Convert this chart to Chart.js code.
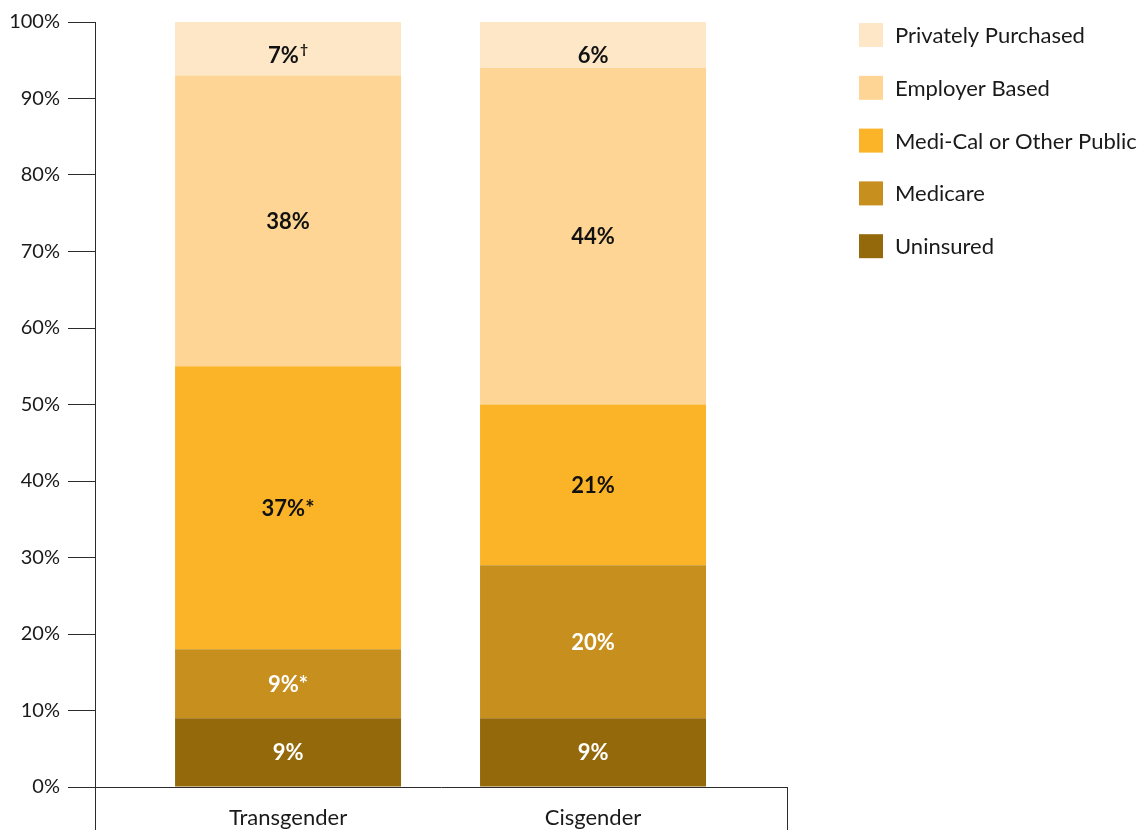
<!DOCTYPE html>
<html><head><meta charset="utf-8">
<script src="https://cdn.jsdelivr.net/npm/chart.js@4/dist/chart.umd.min.js"></script>
<style>html,body{margin:0;padding:0;background:#fff}</style>
</head><body>
<canvas id="c" width="1138" height="830"></canvas>
<script>
// ---- data ----
const categories = ['Transgender', 'Cisgender'];
const seriesNames = ['Uninsured', 'Medicare', 'Medi-Cal or Other Public', 'Employer Based', 'Privately Purchased'];
const uninsured = [9, 9];
const medicare = [9, 20];
const mediCalOrOtherPublic = [37, 21];
const employerBased = [38, 44];
const privatelyPurchased = [7, 6];
// footnote marks per category, in series order
const transgenderNotes = ['', '*', '*', '', '†'];
const cisgenderNotes = ['', '', '', '', ''];
const yTickValues = [0, 10, 20, 30, 40, 50, 60, 70, 80, 90, 100];

// ---- style ----
const FONT = 'Lato';
const TEXT = '#1a1a1a';
const AXIS = '#2b2b2b';
const colors = ['#94690B', '#C68F1E', '#FBB427', '#FED594', '#FEE7C7'];
const labelColors = ['#ffffff', '#ffffff', '#111111', '#111111', '#111111'];

const seriesValues = [uninsured, medicare, mediCalOrOtherPublic, employerBased, privatelyPurchased];
const notes = [transgenderNotes, cisgenderNotes];

const datasets = seriesNames.map((name, s) => ({
  label: name,
  data: categories.map((c, i) => ({ x: i, y: seriesValues[s][i] })),
  backgroundColor: colors[s],
  borderWidth: 0,
  grouped: false,
  categoryPercentage: 1,
  barPercentage: 0.741
}));

const segLabels = {
  id: 'segLabels',
  afterDatasetsDraw(chart) {
    const ctx = chart.ctx;
    ctx.save();
    const n = chart.data.datasets.length;
    chart.data.datasets.forEach((ds, di) => {
      const meta = chart.getDatasetMeta(di);
      meta.data.forEach((el, i) => {
        const val = ds.data[i].y;
        const note = notes[i][di];
        const sup = note === '†';
        const main = val + '%' + (sup ? '' : note);
        let y = (el.y + el.base) / 2 + 1;
        if (di === n - 1) y = Math.max(y, el.y + 34);
        ctx.textBaseline = 'middle';
        ctx.textAlign = 'left';
        ctx.fillStyle = labelColors[di];
        ctx.font = 'bold 22px ' + FONT;
        const w1 = ctx.measureText(main).width;
        let w2 = 0;
        if (sup) { ctx.font = 'bold 14px ' + FONT; w2 = ctx.measureText(note).width + 1; }
        const x0 = el.x - (w1 + w2) / 2;
        ctx.font = 'bold 22px ' + FONT;
        ctx.fillText(main, x0, y);
        if (sup) { ctx.font = 'bold 14px ' + FONT; ctx.fillText(note, x0 + w1 + 1, y - 7); }
      });
    });
    ctx.restore();
  }
};

const extras = {
  id: 'extras',
  afterDraw(chart) {
    const ctx = chart.ctx;
    const a = chart.chartArea;
    ctx.save();
    // axis extension lines below the x axis
    ctx.strokeStyle = AXIS;
    ctx.lineWidth = 1;
    ctx.beginPath();
    const xl = Math.floor(a.left) + 0.5, xr = Math.floor(a.right) + 0.5;
    ctx.moveTo(xl, a.bottom); ctx.lineTo(xl, chart.height);
    ctx.moveTo(xr, a.bottom); ctx.lineTo(xr, chart.height);
    ctx.stroke();
    // legend (top series first)
    const ds = chart.data.datasets;
    const lx = a.right + 72;
    ctx.textAlign = 'left';
    ctx.textBaseline = 'middle';
    ctx.font = '22px ' + FONT;
    for (let k = 0; k < ds.length; k++) {
      const d = ds[ds.length - 1 - k];
      const top = a.top + 1 + k * 52.8;
      ctx.fillStyle = d.backgroundColor;
      ctx.fillRect(lx, top, 24, 24);
      ctx.fillStyle = TEXT;
      ctx.fillText(d.label, lx + 36, top + 13);
    }
    ctx.restore();
  }
};

new Chart(document.getElementById('c'), {
  type: 'bar',
  data: { datasets },
  options: {
    responsive: false,
    animation: false,
    layout: { padding: { left: 0, top: 22, right: 351, bottom: 0 } },
    plugins: { legend: { display: false }, tooltip: { enabled: false } },
    scales: {
      x: {
        type: 'linear',
        min: -0.633,
        max: 1.636,
        offset: false,
        afterBuildTicks(scale) { scale.ticks = categories.map((c, i) => ({ value: i })); },
        afterFit(scale) { scale.height = 43; },
        ticks: {
          callback: (v) => categories[v],
          font: { family: FONT, size: 22 },
          color: TEXT,
          padding: 18,
          maxRotation: 0
        },
        grid: { display: false, drawTicks: false },
        border: { display: true, color: AXIS, width: 1 }
      },
      y: {
        stacked: true,
        min: 0,
        max: 100,
        afterBuildTicks(scale) { scale.ticks = yTickValues.map(v => ({ value: v })); },
        afterFit(scale) { scale.width = 95; },
        ticks: {
          callback: (v) => v + '%',
          font: { family: FONT, size: 20 },
          color: TEXT,
          padding: 8
        },
        grid: { drawOnChartArea: false, drawTicks: true, tickLength: 27, color: AXIS, lineWidth: 1 },
        border: { display: true, color: AXIS, width: 1 }
      }
    }
  },
  plugins: [segLabels, extras]
});
</script>
</body></html>
